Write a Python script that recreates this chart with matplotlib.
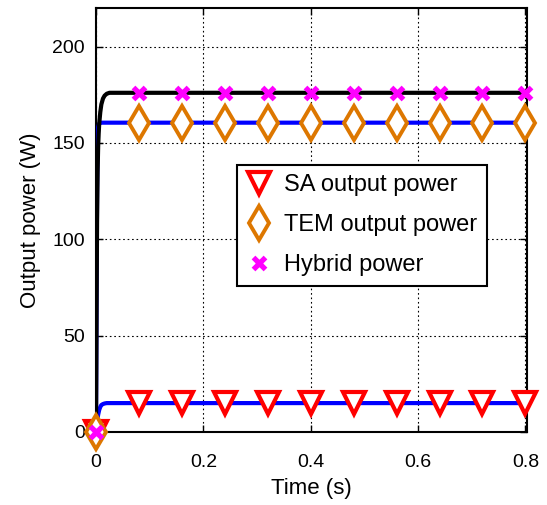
import matplotlib
matplotlib.use("Agg")
import matplotlib.pyplot as plt
import numpy as np

plt.rcParams['font.family'] = ['Liberation Sans', 'DejaVu Sans']

# curve samples (time in s, power in W)
t_hyb = [0, 0.001, 0.002, 0.003, 0.004, 0.005, 0.006, 0.008, 0.010, 0.013, 0.016, 0.020, 0.025, 0.030, 0.8]
p_hyb = [0, 60, 110, 135, 148, 155, 160, 166, 170, 173, 174.5, 175.5, 176, 176, 176]
t_tem = [0, 0.001, 0.002, 0.003, 0.004, 0.006, 0.010, 0.8]
p_tem = [0, 70, 125, 150, 158, 160, 160.5, 160.5]
t_sa = [0, 0.002, 0.004, 0.006, 0.008, 0.010, 0.013, 0.016, 0.020, 0.8]
p_sa = [0, 5, 9, 11.5, 13, 14, 14.5, 14.8, 15, 15]

# marker samples
t_mark = [0, 0.08, 0.16, 0.24, 0.32, 0.40, 0.48, 0.56, 0.64, 0.72, 0.80]
m_sa = [0, 15, 15, 15, 15, 15, 15, 15, 15, 15, 15]
m_tem = [0, 160.5, 160.5, 160.5, 160.5, 160.5, 160.5, 160.5, 160.5, 160.5, 160.5]
m_hyb = [0, 176, 176, 176, 176, 176, 176, 176, 176, 176, 176]

xticks = [0, 0.2, 0.4, 0.6, 0.8]
xticklabels = ['0', '0.2', '0.4', '0.6', '0.8']
yticks = [0, 50, 100, 150, 200]

fig = plt.figure(figsize=(5.47, 5.05), dpi=100)
ax = fig.add_axes([96/547, 1 - 432/505, 431/547, 424/505])

ax.plot(t_sa, p_sa, color='#0000ff', lw=3, zorder=3)
ax.plot(t_tem, p_tem, color='#0000ff', lw=3, zorder=3)
ax.plot(t_hyb, p_hyb, color='black', lw=3, zorder=3)

ax.plot(t_mark, m_sa, ls='none', marker='v', ms=16, mfc='white', mec='#ff0000', mew=3,
        label='SA output power', zorder=4, clip_on=False)
ax.plot(t_mark, m_tem, ls='none', marker='d', ms=17, mfc='white', mec='#dd7700', mew=2.8,
        label='TEM output power', zorder=4, clip_on=False)
ax.plot(t_mark, m_hyb, ls='none', marker='x', ms=8.5, mec='#ff00ff', mew=3.8,
        label='Hybrid power', zorder=5, clip_on=False)

ax.set_xlim(0, 0.803)
ax.set_ylim(0, 220)
ax.set_xticks(xticks)
ax.set_xticklabels(xticklabels)
ax.set_yticks(yticks)
ax.grid(True, color='black', ls=(0, (1.5, 2.5)), lw=0.8)
ax.tick_params(direction='in', top=True, right=True, labelsize=14, length=5, width=1)
ax.tick_params(axis='y', pad=8)
ax.tick_params(axis='x', pad=16)
for s in ax.spines.values():
    s.set_linewidth(1.5)

ax.set_xlabel('Time (s)', fontsize=16, labelpad=5)
ax.set_ylabel('Output power (W)', fontsize=16, labelpad=8)

leg = ax.legend(loc='upper left', bbox_to_anchor=(0.327, 0.63), fontsize=17, frameon=True,
                fancybox=False, edgecolor='black', framealpha=1, borderpad=0.4,
                handlelength=1.1, handletextpad=0.5, labelspacing=0.76, borderaxespad=0)
leg.get_frame().set_linewidth(1.5)

fig.savefig('out.png', dpi=100)
